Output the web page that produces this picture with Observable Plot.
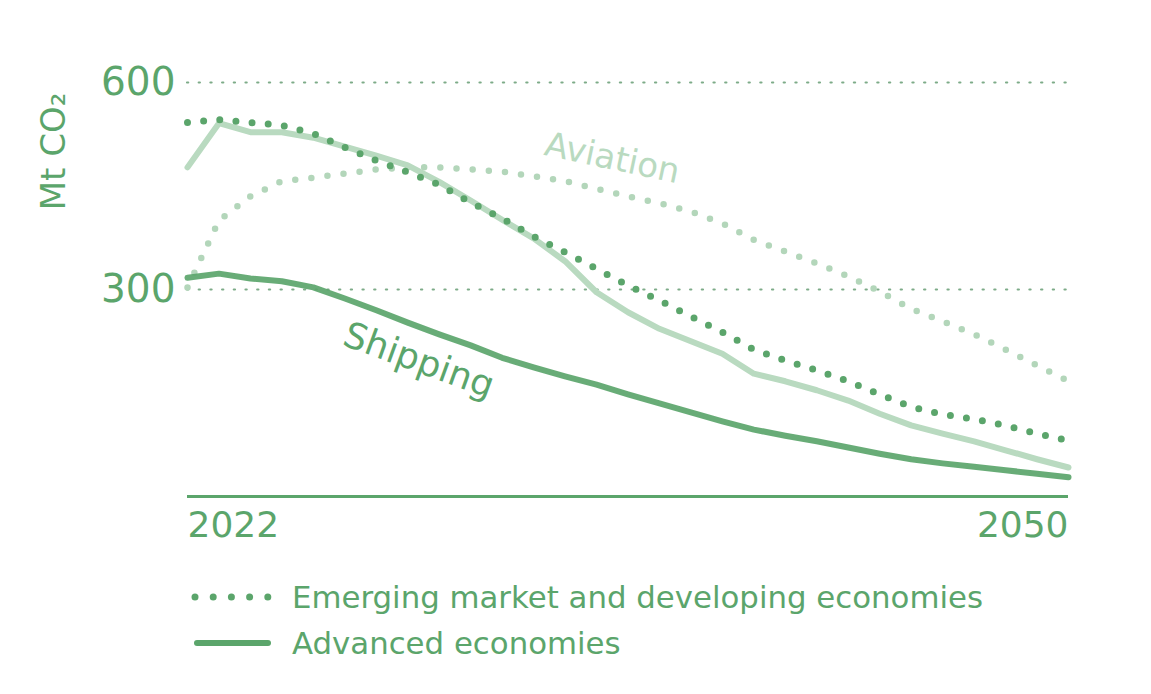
<!DOCTYPE html>
<html><head><meta charset="utf-8">
<script src="https://cdn.jsdelivr.net/npm/d3@7"></script>
<script src="https://cdn.jsdelivr.net/npm/@observablehq/plot@0.6"></script>
<style>
body{margin:0;background:#fff;font-family:"DejaVu Sans",sans-serif;}
#wrap{position:relative;width:1151px;height:694px;background:#fff;}
#legend{position:absolute;left:191px;top:574px;color:#5ba56b;font-size:30.8px;}
.row{display:flex;align-items:center;height:46px;white-space:nowrap;}
.row svg{width:82px;height:20px;margin-right:19px;flex:none;overflow:visible;}
</style></head><body><div id="wrap"><div id="chart"></div><div id="legend"></div></div>
<script>
const years = [2022,2023,2024,2025,2026,2027,2028,2029,2030,2031,2032,2033,2034,2035,2036,2037,2038,2039,2040,2041,2042,2043,2044,2045,2046,2047,2048,2049,2050];
const shippingEmde = [542,546,542,538,526,506,487,470,452,426,403,377,354,330,306,284,261,238,213,197,183,167,148,130,119,112,103,91,81];
const shippingAdvanced = [317,323,316,312,303,287,270,252,235,219,201,187,174,162,148,135,122,109,97,88,80,71,62,54,48,43,38,33,28];
const aviationEmde = [303,400,435,457,462,468,474,477,477,474,471,464,457,446,435,425,413,396,372,355,338,319,297,272,254,235,213,190,167];
const aviationAdvanced = [477,541,528,528,520,507,494,480,456,429,401,374,341,296,267,243,225,207,178,167,154,139,120,103,91,80,67,54,42];
const yTicks = [300,600];
const xTicks = [2022,2050];
const legendItems = ["Emerging market and developing economies","Advanced economies"];
const seriesLabels = ["Shipping","Aviation"];
const yLabel = "Mt CO₂";

const dark = "#5ba56b", light = "#b9dac0", lightDot = "#b3d6ba", grid = "#7dab88";

const rows = years.map((year,i)=>({year, shEmde:shippingEmde[i], shAdv:shippingAdvanced[i], avEmde:aviationEmde[i], avAdv:aviationAdvanced[i]}));

const chart = Plot.plot({
  width:1151, height:560,
  marginLeft:187, marginRight:83, marginTop:82, marginBottom:64,
  style:{fontFamily:"DejaVu Sans, sans-serif", background:"white", overflow:"visible"},
  x:{domain:[2022,2050]},
  y:{domain:[0,600]},
  marks:[
    Plot.ruleY(yTicks,{stroke:grid, strokeWidth:2.2, strokeDasharray:"1.2,10.5", strokeLinecap:"round"}),
    Plot.ruleY([0],{stroke:dark, strokeWidth:3}),
    Plot.axisY({ticks:yTicks, tickSize:0, tickPadding:12, fontSize:39, color:dark, label:null, tickFormat:d=>String(d)}),
    Plot.axisX([xTicks[0]],{tickSize:0, tickPadding:15, fontSize:36, color:dark, label:null, textAnchor:"start", tickFormat:d=>String(d)}),
    Plot.axisX([xTicks[1]],{tickSize:0, tickPadding:15, fontSize:36, color:dark, label:null, textAnchor:"end", tickFormat:d=>String(d)}),
    Plot.text([yLabel],{frameAnchor:"top-left", dx:-133, dy:69, rotate:-90, fontSize:34, fill:dark, textAnchor:"middle", lineAnchor:"middle"}),
    Plot.line(rows,{x:"year", y:"avEmde", stroke:lightDot, strokeWidth:6.5, strokeDasharray:"0,16.2", strokeLinecap:"round"}),
    Plot.line(rows,{x:"year", y:"avAdv", stroke:light, strokeWidth:6}),
    Plot.line(rows,{x:"year", y:"shAdv", stroke:dark, strokeWidth:6, strokeOpacity:0.92}),
    Plot.line(rows,{x:"year", y:"shEmde", stroke:dark, strokeWidth:7, strokeDasharray:"0,16.2", strokeLinecap:"round"}),
    Plot.text([seriesLabels[0]],{x:()=>2029.35, y:()=>197, rotate:20, fontSize:36, fill:dark, textAnchor:"middle", lineAnchor:"middle"}),
    Plot.text([seriesLabels[1]],{x:()=>2035.5, y:()=>490, rotate:12, fontSize:34, fill:light, textAnchor:"middle", lineAnchor:"middle"})
  ]
});
document.getElementById("chart").appendChild(chart);

const legend = d3.select("#legend");
legendItems.forEach((label,i)=>{
  const row = legend.append("div").attr("class","row");
  const sw = row.append("svg").attr("width",82).attr("height",20);
  if(i===0){
    sw.selectAll("circle").data([0,1,2,3,4]).join("circle")
      .attr("cx",k=>4+k*18.2).attr("cy",10).attr("r",3.5).attr("fill",dark);
  } else {
    sw.append("line").attr("x1",6).attr("x2",77).attr("y1",10).attr("y2",10)
      .attr("stroke",dark).attr("stroke-width",6).attr("stroke-linecap","round");
  }
  row.append("span").text(label);
});
</script></body></html>
